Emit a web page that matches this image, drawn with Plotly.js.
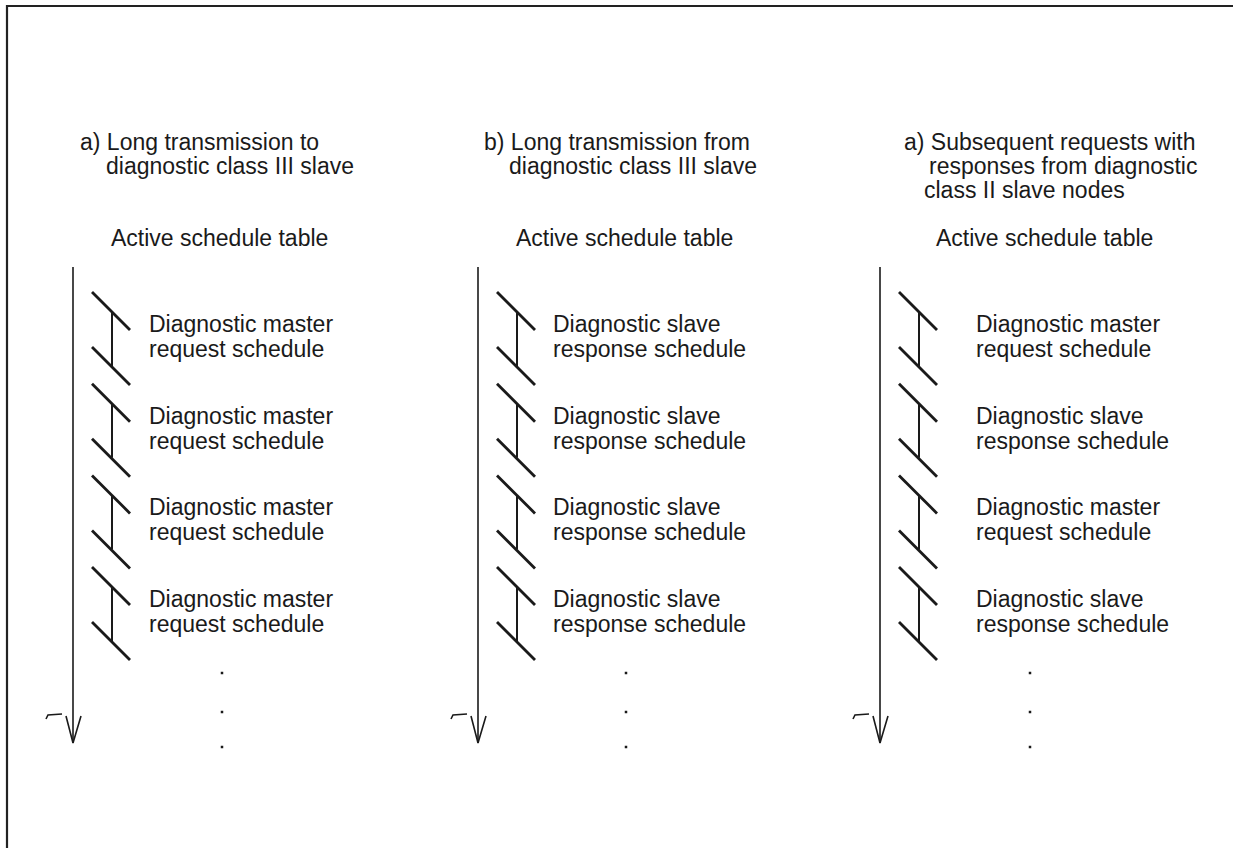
<!DOCTYPE html>
<html>
<head>
<meta charset="utf-8">
<script src="https://cdn.plot.ly/plotly-3.0.1.min.js"></script>
<style>html,body{margin:0;padding:0;background:#fff;}#chart{width:1233px;height:848px;}</style>
</head>
<body>
<div id="chart"></div>
<script>
// ---- content ----
const panelTitles = [
  ["a) Long transmission to", "diagnostic class III slave"],
  ["b) Long transmission from", "diagnostic class III slave"],
  ["a) Subsequent requests with", "responses from diagnostic", "class II slave nodes"]
];
const tableLabel = "Active schedule table";
const masterLines = ["Diagnostic master", "request schedule"];
const slaveLines = ["Diagnostic slave", "response schedule"];
const panelBlocks = [
  [masterLines, masterLines, masterLines, masterLines],
  [slaveLines, slaveLines, slaveLines, slaveLines],
  [masterLines, slaveLines, masterLines, slaveLines]
];

// ---- layout constants (pixel geometry) ----
const W = 1233, H = 848;
const panelX = [73, 478, 880];
const titleX = [[79, 105], [483, 508], [903, 928, 923]];
const titleBase = [150, 174, 198];
const tableCenterX = [219, 624, 1044];
const tableBase = 246;
const textX = [148, 552, 975];
const dotX = [222, 626, 1030];
const dotY = [673, 712, 747];
const axisTop = 267, axisTip = 743;
const blockTop0 = 292, blockStep = 91.7;

const FONT = {family: "Liberation Sans, Arial, sans-serif", size: 23, color: "#1a1a1a"};
const ink = "#1a1a1a";

function lineTrace(xs, ys, width, color) {
  return {x: xs, y: ys, mode: "lines", type: "scatter", hoverinfo: "skip",
          line: {color: color || ink, width: width}, showlegend: false};
}
function push(xs, ys, pts) {
  pts.forEach(p => { xs.push(p[0]); ys.push(p[1]); });
  xs.push(null); ys.push(null);
}

const traces = [];
const annotations = [];

// frame
traces.push(lineTrace([7, 7, W], [H, 6, 6], 2.2, "#222"));

const axX = [], axY = [], slX = [], slY = [], vX = [], vY = [], mkX = [], mkY = [];
const dX = [], dY = [];

panelX.forEach((px, p) => {
  // time axis with open arrow head
  push(axX, axY, [[px, axisTop], [px, axisTip]]);
  push(axX, axY, [[px - 7, 716], [px, axisTip], [px + 8, 716]]);
  push(mkX, mkY, [[px - 27, 719], [px - 25, 715], [px - 11, 714]]);

  // blocks
  panelBlocks[p].forEach((lines, i) => {
    const top = blockTop0 + i * blockStep;
    push(slX, slY, [[px + 19, top], [px + 57, top + 38]]);
    push(slX, slY, [[px + 19, top + 55], [px + 57, top + 93]]);
    push(vX, vY, [[px + 39, top + 20], [px + 39, top + 74]]);
    lines.forEach((t, k) => {
      annotations.push({x: textX[p], y: top + 40 + k * 25 - 8, text: t, showarrow: false,
        xanchor: "left", yanchor: "middle", borderpad: 0, font: FONT, xref: "x", yref: "y"});
    });
  });

  // continuation dots
  dotY.forEach(y => { dX.push(dotX[p]); dY.push(y); });

  // titles
  panelTitles[p].forEach((t, k) => {
    annotations.push({x: titleX[p][k], y: titleBase[k] - 8, text: t, showarrow: false,
      xanchor: "left", yanchor: "middle", borderpad: 0, font: FONT, xref: "x", yref: "y"});
  });
  annotations.push({x: tableCenterX[p], y: tableBase - 8, text: tableLabel, showarrow: false,
    xanchor: "center", yanchor: "middle", borderpad: 0, font: FONT, xref: "x", yref: "y"});
});

traces.push(lineTrace(axX, axY, 1.6));
traces.push(lineTrace(mkX, mkY, 1.6));
traces.push(lineTrace(slX, slY, 2.8));
traces.push(lineTrace(vX, vY, 2));
traces.push({x: dX, y: dY, mode: "markers", type: "scatter", hoverinfo: "skip", showlegend: false,
  marker: {symbol: "square", size: 2.5, color: ink}});

const layout = {
  width: W, height: H,
  margin: {l: 0, r: 0, t: 0, b: 0, pad: 0},
  paper_bgcolor: "#fff", plot_bgcolor: "#fff",
  xaxis: {range: [0, W], visible: false, fixedrange: true},
  yaxis: {range: [H, 0], visible: false, fixedrange: true},
  annotations: annotations,
  showlegend: false
};

Plotly.newPlot("chart", traces, layout, {staticPlot: true, displayModeBar: false});
</script>
</body>
</html>
